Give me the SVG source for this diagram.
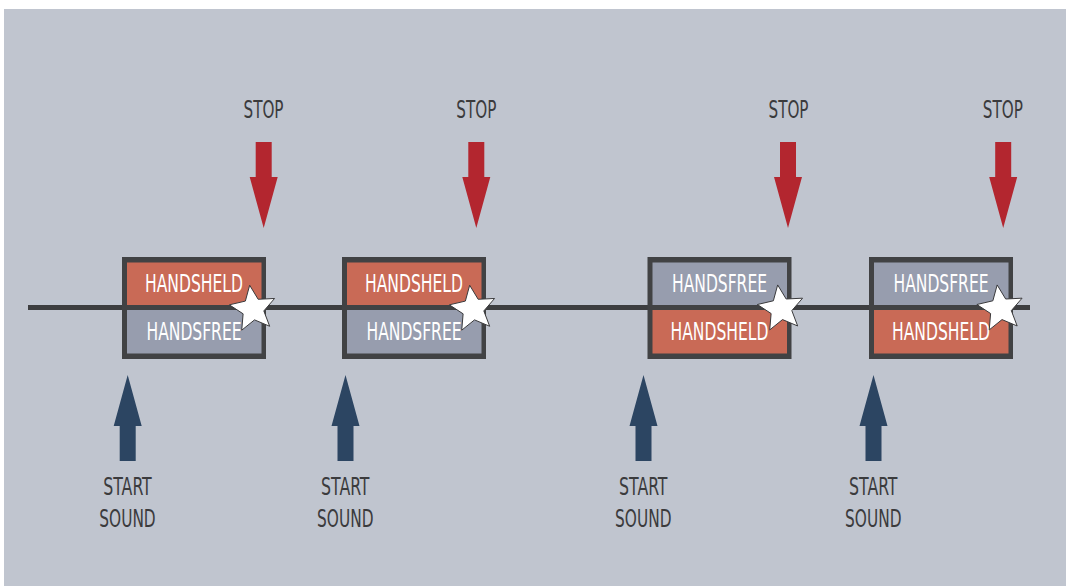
<svg xmlns="http://www.w3.org/2000/svg" width="1070" height="586" viewBox="0 0 1070 586">
<style>
.t{font-family:"DejaVu Sans Condensed","Liberation Sans",sans-serif;font-size:24px;text-anchor:middle}
.dk{fill:#3b3b3d}
.wt{fill:#ffffff}
.frame{fill:#414244}
.red{fill:#c96a56}
.gry{fill:#979dae}
.stop{fill:#b3262f}
.start{fill:#2c4562}
.star{fill:#ffffff;stroke:#3a3a3c;stroke-width:1;stroke-linejoin:miter}
</style>
<defs>
<polygon id="star" class="star" points="-3.34,-23.77 5.16,-9.71 21.57,-10.52 10.83,1.91 16.67,17.26 1.53,10.89 -11.27,21.19 -9.89,4.82 -23.64,-4.17 -7.64,-7.91"/>
<path id="downArrow" d="M-8,142 H8 V177 H14 L0,228 L-14,177 H-8 Z"/>
<path id="upArrow" d="M0,375 L14,426 H8 V461 H-8 V426 H-14 Z"/>
</defs>
<rect x="4" y="9" width="1062" height="577" fill="#c0c5cf"/>
<g id="connectors">
<rect x="28" y="305" width="1002" height="5" fill="#3d3e40"/>
</g>
<g id="box1">
<rect class="frame" x="122" y="257" width="144" height="102"/>
<rect class="red" x="127" y="262.5" width="134.5" height="42.5"/>
<rect class="gry" x="127" y="310" width="134.5" height="43.5"/>
<text class="t wt" x="194" y="291.7" textLength="98" lengthAdjust="spacingAndGlyphs">HANDSHELD</text>
<text class="t wt" x="194" y="340" textLength="95" lengthAdjust="spacingAndGlyphs">HANDSFREE</text>
<use href="#star" x="253" y="309"/>
</g>
<g id="box2">
<rect class="frame" x="342" y="257" width="144" height="102"/>
<rect class="red" x="347" y="262.5" width="134.5" height="42.5"/>
<rect class="gry" x="347" y="310" width="134.5" height="43.5"/>
<text class="t wt" x="414" y="291.7" textLength="98" lengthAdjust="spacingAndGlyphs">HANDSHELD</text>
<text class="t wt" x="414" y="340" textLength="95" lengthAdjust="spacingAndGlyphs">HANDSFREE</text>
<use href="#star" x="473" y="309"/>
</g>
<g id="box3">
<rect class="frame" x="647.5" y="257" width="144" height="102"/>
<rect class="gry" x="652.5" y="262.5" width="134.5" height="42.5"/>
<rect class="red" x="652.5" y="310" width="134.5" height="43.5"/>
<text class="t wt" x="719.5" y="291.7" textLength="95" lengthAdjust="spacingAndGlyphs">HANDSFREE</text>
<text class="t wt" x="719.5" y="340" textLength="98" lengthAdjust="spacingAndGlyphs">HANDSHELD</text>
<use href="#star" x="781" y="308.7"/>
</g>
<g id="box4">
<rect class="frame" x="869" y="257" width="144" height="102"/>
<rect class="gry" x="874" y="262.5" width="134.5" height="42.5"/>
<rect class="red" x="874" y="310" width="134.5" height="43.5"/>
<text class="t wt" x="941" y="291.7" textLength="95" lengthAdjust="spacingAndGlyphs">HANDSFREE</text>
<text class="t wt" x="941" y="340" textLength="98" lengthAdjust="spacingAndGlyphs">HANDSHELD</text>
<use href="#star" x="1000.5" y="308.7"/>
</g>
<g id="stop1">
<text class="t dk" x="263.5" y="118" textLength="40" lengthAdjust="spacingAndGlyphs">STOP</text>
<use href="#downArrow" class="stop" x="263.7" y="0"/>
</g>
<g id="stop2">
<text class="t dk" x="476.3" y="118" textLength="40" lengthAdjust="spacingAndGlyphs">STOP</text>
<use href="#downArrow" class="stop" x="476.3" y="0"/>
</g>
<g id="stop3">
<text class="t dk" x="788.5" y="118" textLength="40" lengthAdjust="spacingAndGlyphs">STOP</text>
<use href="#downArrow" class="stop" x="788" y="0"/>
</g>
<g id="stop4">
<text class="t dk" x="1002.8" y="118" textLength="40" lengthAdjust="spacingAndGlyphs">STOP</text>
<use href="#downArrow" class="stop" x="1003.2" y="0"/>
</g>
<g id="start1">
<use href="#upArrow" class="start" x="127.7" y="0"/>
<text class="t dk" x="127.5" y="495" textLength="48.4" lengthAdjust="spacingAndGlyphs">START</text>
<text class="t dk" x="127.5" y="526.7" textLength="56.4" lengthAdjust="spacingAndGlyphs">SOUND</text>
</g>
<g id="start2">
<use href="#upArrow" class="start" x="345.5" y="0"/>
<text class="t dk" x="345.3" y="495" textLength="48.4" lengthAdjust="spacingAndGlyphs">START</text>
<text class="t dk" x="345.3" y="526.7" textLength="56.4" lengthAdjust="spacingAndGlyphs">SOUND</text>
</g>
<g id="start3">
<use href="#upArrow" class="start" x="643.5" y="0"/>
<text class="t dk" x="643.3" y="495" textLength="48.4" lengthAdjust="spacingAndGlyphs">START</text>
<text class="t dk" x="643.3" y="526.7" textLength="56.4" lengthAdjust="spacingAndGlyphs">SOUND</text>
</g>
<g id="start4">
<use href="#upArrow" class="start" x="873.5" y="0"/>
<text class="t dk" x="873.3" y="495" textLength="48.4" lengthAdjust="spacingAndGlyphs">START</text>
<text class="t dk" x="873.3" y="526.7" textLength="56.4" lengthAdjust="spacingAndGlyphs">SOUND</text>
</g>
</svg>
